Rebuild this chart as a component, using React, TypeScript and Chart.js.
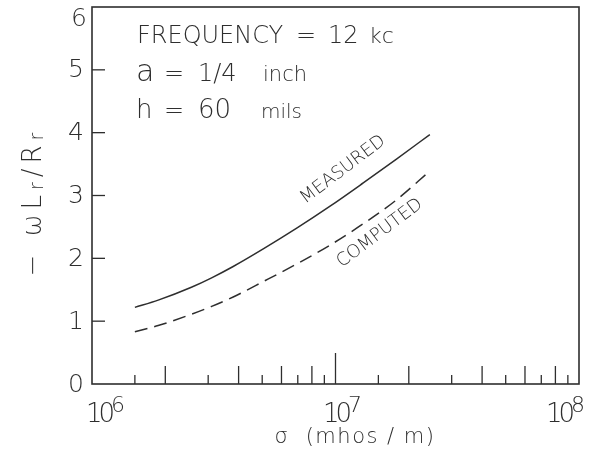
import React, { useEffect, useRef } from "react";
import { Chart, registerables } from "chart.js";

Chart.register(...registerables);

// ---- data ----
const sigma = [1.5e6, 1.87e6, 2.56e6, 3.1e6, 3.8e6, 5.05e6, 6.93e6, 9.5e6, 1.3e7, 1.78e7, 2.44e7];
const measured = [1.22, 1.335, 1.54, 1.69, 1.87, 2.15, 2.48, 2.83, 3.2, 3.58, 3.97];
const computed = [0.83, 0.93, 1.11, 1.235, 1.385, 1.63, 1.91, 2.21, 2.55, 2.93, 3.39];
const yTicks = [0, 1, 2, 3, 4, 5, 6];
const yInnerTicks = [1, 2, 3, 4, 5];
const xDecades = [6, 7, 8];
const xMinorMultipliers = [1.5, 2, 3, 4, 5, 6, 7, 8, 9];
const xMinorTall = [2, 4, 6, 8];
const xMidDecade = 7;

const FONT = '"DejaVu Sans", sans-serif';
const INK = "#2e2e2e";
const W = 300;
const f = (size: number) => `${W} ${size}px ${FONT}`;

type Part = { t: string; s: number; dy?: number; ls?: number };

function drawParts(ctx: CanvasRenderingContext2D, parts: Part[], x: number, y: number, align: "left" | "center" | "right", spacing = 0) {
  const setLs = (p: Part) => {
    (ctx as any).letterSpacing = `${p.ls !== undefined ? p.ls : spacing}px`;
  };
  const widths = parts.map((p) => {
    ctx.font = f(p.s);
    setLs(p);
    return ctx.measureText(p.t).width;
  });
  const total = widths.reduce((a, b) => a + b, 0);
  let cx = align === "left" ? x : align === "center" ? x - total / 2 : x - total;
  ctx.textAlign = "left";
  ctx.textBaseline = "alphabetic";
  parts.forEach((p, i) => {
    ctx.font = f(p.s);
    setLs(p);
    ctx.fillText(p.t, cx, y + (p.dy || 0));
    cx += widths[i];
  });
  (ctx as any).letterSpacing = "0px";
}

const decor = {
  id: "decor",
  afterDraw(chart: any) {
    const { ctx, chartArea: a, scales } = chart;
    const xs = scales.x;
    const ys = scales.y;
    ctx.save();
    ctx.strokeStyle = INK;
    ctx.fillStyle = INK;
    ctx.lineWidth = 1.6;
    ctx.strokeRect(a.left, a.top, a.right - a.left, a.bottom - a.top);

    const seg = (x1: number, y1: number, x2: number, y2: number) => {
      ctx.beginPath();
      ctx.moveTo(x1, y1);
      ctx.lineTo(x2, y2);
      ctx.stroke();
    };

    // inward x ticks
    ctx.lineWidth = 1.3;
    for (const d of xDecades.slice(0, -1)) {
      for (const m of xMinorMultipliers) {
        const px = xs.getPixelForValue(m * Math.pow(10, d));
        const len = xMinorTall.includes(m) ? 18 : 9;
        seg(px, a.bottom, px, a.bottom - len);
      }
    }
    const pm = xs.getPixelForValue(Math.pow(10, xMidDecade));
    seg(pm, a.bottom, pm, a.bottom - 31);

    // inward y ticks
    for (const v of yInnerTicks) {
      const py = ys.getPixelForValue(v);
      seg(a.left, py, a.left + 13, py);
    }

    // y tick labels
    ctx.font = f(25);
    ctx.textAlign = "right";
    ctx.textBaseline = "middle";
    for (const v of yTicks) {
      let py = ys.getPixelForValue(v);
      if (v === yTicks[yTicks.length - 1]) py = a.top + 11;
      ctx.fillText(String(v), a.left - 8 + (v === 6 ? 3 : 0), py + 1);
    }

    // x tick labels 10^n
    xDecades.forEach((d, i) => {
      const px = xs.getPixelForValue(Math.pow(10, d));
      ctx.font = f(26);
      (ctx as any).letterSpacing = "-4px";
      const wb = ctx.measureText("10").width;
      (ctx as any).letterSpacing = "0px";
      ctx.font = f(22);
      const we = ctx.measureText(String(d)).width;
      let sx = px - wb / 2;
      if (i === 0) sx = px - 6;
      if (i === xDecades.length - 1) sx = px + 6 - wb - we;
      drawParts(ctx, [{ t: "10", s: 26, ls: -4 }, { t: String(d), s: 22, dy: -10, ls: 0 }], sx, a.bottom + 38, "left");
    });

    // x title
    drawParts(ctx, [{ t: "σ  (mhos / m)", s: 21 }], 355, a.bottom + 59, "center", 1.5);

    // y title (rotated)
    ctx.save();
    ctx.translate(41, 202);
    ctx.rotate(-Math.PI / 2);
    drawParts(
      ctx,
      [
        { t: "−", s: 26 },
        { t: " ω", s: 26 },
        { t: "L", s: 26 },
        { t: "r", s: 19, dy: 2 },
        { t: "/", s: 26 },
        { t: "R", s: 26 },
        { t: "r", s: 19, dy: 2 },
      ],
      0,
      0,
      "center",
      5
    );
    ctx.restore();

    // parameter notes
    const L = a.left;
    const T = a.top;
    drawParts(ctx, [{ t: "FREQUENCY", s: 24 }], L + 45, T + 36, "left");
    drawParts(ctx, [{ t: "=", s: 24 }], L + 204, T + 36, "left");
    drawParts(ctx, [{ t: "12", s: 24 }], L + 236, T + 36, "left");
    drawParts(ctx, [{ t: "kc", s: 22 }], L + 277, T + 36, "left");

    drawParts(ctx, [{ t: "a", s: 30 }], L + 44, T + 74, "left");
    drawParts(ctx, [{ t: "=", s: 24 }], L + 72, T + 74, "left");
    drawParts(ctx, [{ t: "1/4", s: 24 }], L + 106, T + 74, "left");
    drawParts(ctx, [{ t: "inch", s: 21 }], L + 171, T + 74, "left");

    drawParts(ctx, [{ t: "h", s: 26 }], L + 44, T + 111, "left");
    drawParts(ctx, [{ t: "=", s: 24 }], L + 72, T + 111, "left");
    drawParts(ctx, [{ t: "60", s: 26 }], L + 106, T + 111, "left");
    drawParts(ctx, [{ t: "mils", s: 20 }], L + 169, T + 111, "left");

    // curve labels
    const label = (text: string, xv: number, yv: number) => {
      ctx.save();
      ctx.translate(xs.getPixelForValue(xv), ys.getPixelForValue(yv));
      ctx.rotate((-37 * Math.PI) / 180);
      ctx.font = f(18);
      ctx.textAlign = "center";
      ctx.textBaseline = "middle";
      ctx.fillText(text, 0, 0);
      ctx.restore();
    };
    label("MEASURED", 1.074e7, 3.41);
    label("COMPUTED", 1.52e7, 2.4);

    ctx.restore();
  },
};

export default function App() {
  const ref = useRef<HTMLCanvasElement>(null);
  useEffect(() => {
    if (!ref.current) return;
    const chart = new Chart(ref.current, {
      type: "line",
      data: {
        datasets: [
          {
            label: "MEASURED",
            data: sigma.map((s, i) => ({ x: s, y: measured[i] })),
            borderColor: INK,
            borderWidth: 1.5,
            pointRadius: 0,
            cubicInterpolationMode: "monotone",
            fill: false,
          },
          {
            label: "COMPUTED",
            data: sigma.map((s, i) => ({ x: s, y: computed[i] })),
            borderColor: INK,
            borderWidth: 1.5,
            borderDash: [13, 7],
            pointRadius: 0,
            cubicInterpolationMode: "monotone",
            fill: false,
          },
        ],
      },
      options: {
        responsive: false,
        animation: false,
        layout: { padding: { left: 0, right: 13, top: 7, bottom: 0 } },
        plugins: { legend: { display: false }, tooltip: { enabled: false } },
        scales: {
          x: {
            type: "logarithmic",
            min: 1e6,
            max: 1e8,
            grid: { display: false, drawTicks: false },
            border: { display: false },
            ticks: { display: false },
            afterFit: (s: any) => {
              s.height = 68;
              s.paddingLeft = 0;
              s.paddingRight = 0;
            },
          },
          y: {
            type: "linear",
            min: 0,
            max: 6,
            grid: { display: false, drawTicks: false },
            border: { display: false },
            afterBuildTicks: (s: any) => {
              s.ticks = yTicks.map((v) => ({ value: v }));
            },
            ticks: { display: false },
            afterFit: (s: any) => {
              s.width = 92;
              s.paddingTop = 0;
              s.paddingBottom = 0;
            },
          },
        },
      },
      plugins: [decor],
    });
    return () => chart.destroy();
  }, []);
  return (
    <div style={{ position: "absolute", left: 0, top: 0, width: 592, height: 452, background: "#fff" }}>
      <canvas ref={ref} width={592} height={452} style={{ width: 592, height: 452 }} />
    </div>
  );
}
